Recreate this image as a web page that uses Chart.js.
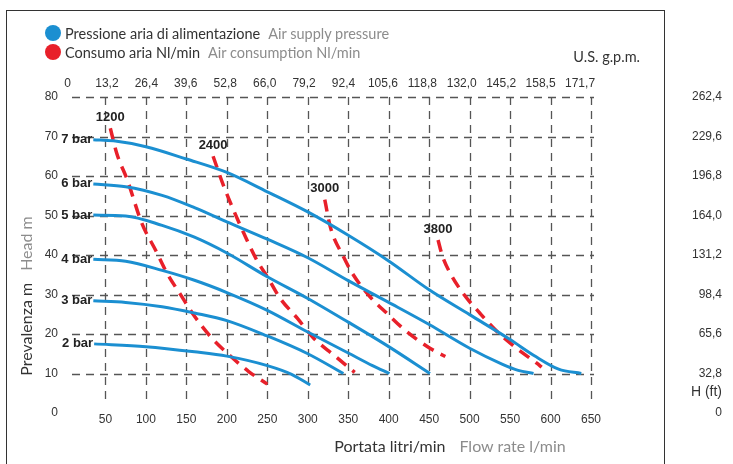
<!DOCTYPE html>
<html lang="it">
<head>
<meta charset="utf-8">
<title>Curve caratteristiche pompa</title>
<script src="https://cdn.jsdelivr.net/npm/chart.js@4.4.1/dist/chart.umd.min.js"></script>
<style>
  html, body { margin: 0; padding: 0; background: #fff; }
  body { position: relative; width: 733px; height: 464px; overflow: hidden; font-family: Lato, "Open Sans", sans-serif; }
  #grafico { position: absolute; left: 0; top: 0; }
  .cornice { position: absolute; left: 6px; top: 10px; width: 657px; height: 470px; border: 1.5px solid #333; border-bottom: none; }
  .legenda-riga { position: absolute; left: 45px; height: 20px; display: flex; align-items: center; font-size: 14.5px; color: #333; white-space: nowrap; }
  .pallino { width: 16px; height: 16px; border-radius: 50%; margin-right: 4px; }
  .en { color: #8c8c8c; margin-left: 8px; }
  .gpm { position: absolute; right: 93px; top: 48px; font-size: 14.5px; color: #333; }
  .titolo-x { position: absolute; left: 450px; top: 445px; transform: translate(-50%, -50%); font-size: 16px; color: #333; white-space: nowrap; }
  .titolo-y { position: absolute; left: 25px; top: 296px; transform: translate(-50%, -50%) rotate(-90deg); font-size: 16px; color: #333; white-space: nowrap; }
  .unita-ft { position: absolute; right: 11px; top: 383px; font-family: "Liberation Sans", Arial, sans-serif; font-size: 14px; color: #333; }
</style>
</head>
<body>
<canvas id="grafico" width="733" height="464"></canvas>
<div class="cornice"></div>
<div class="legenda-riga" style="top:23px"><span class="pallino" style="background:#1b8fd1"></span>Pressione aria di alimentazione<span class="en">Air supply pressure</span></div>
<div class="legenda-riga" style="top:42px"><span class="pallino" style="background:#e8202a"></span>Consumo aria Nl/min<span class="en">Air consumption Nl/min</span></div>
<div class="gpm">U.S. g.p.m.</div>
<div class="titolo-x">Portata litri/min<span class="en" style="margin-left:14px">Flow rate l/min</span></div>
<div class="titolo-y">Prevalenza m<span class="en" style="margin-left:12px">Head m</span></div>
<div class="unita-ft">H (ft)</div>

<script>
// Assi
const flowTicks = [50, 100, 150, 200, 250, 300, 350, 400, 450, 500, 550, 600, 650];
const gpmTicks = [0, 50, 100, 150, 200, 250, 300, 350, 400, 450, 500, 550, 600, 650];
const gpmLabels = ['0', '13,2', '26,4', '39,6', '52,8', '66,0', '79,2', '92,4', '105,6', '118,8', '132,0', '145,2', '158,5', '171,7'];
const headTicks = [0, 10, 20, 30, 40, 50, 60, 70, 80];
const feetLabels = ['0', '32,8', '65,6', '98,4', '131,2', '164,0', '196,8', '229,6', '262,4'];

// Curve pressione aria [portata l/min, prevalenza m]
const pressureNames = ['7 bar', '6 bar', '5 bar', '4 bar', '3 bar', '2 bar'];
const bar7 = [[35, 69.2], [60, 68.9], [100, 67.4], [150, 64.3], [200, 60.9], [250, 56], [300, 50.9], [350, 45], [400, 38.5], [450, 31.2], [500, 24.9], [550, 18.6], [580, 14.5], [610, 11.1], [638, 10]];
const bar6 = [[35, 58], [75, 57.3], [120, 55.1], [160, 52], [200, 48.4], [250, 44], [300, 39.3], [350, 33.5], [400, 28], [450, 22.4], [500, 16.4], [540, 12.4], [560, 10.8], [579, 10]];
const bar5 = [[35, 50.1], [75, 49.9], [120, 47.5], [160, 44.5], [200, 40.5], [250, 34.5], [300, 29], [350, 23], [400, 16.8], [451, 10]];
const bar4 = [[35, 38.9], [75, 38.4], [120, 36.1], [160, 33.6], [200, 30.5], [250, 26], [300, 20.5], [350, 15.2], [380, 12], [401, 10]];
const bar3 = [[35, 28.4], [75, 28], [120, 26.9], [160, 25.3], [200, 23.4], [250, 19.5], [300, 15], [344, 10]];
const bar2 = [[36, 17.5], [100, 16.8], [160, 15.5], [200, 14.4], [250, 12], [280, 9.8], [303, 7.1]];
const pressureCurves = [bar7, bar6, bar5, bar4, bar3, bar2];

// Curve consumo aria Nl/min
const airNames = ['1200', '2400', '3000', '3800'];
const air1200 = [[56, 72.1], [64, 65.7], [77, 59], [95, 48], [112, 41.2], [126, 35.4], [143, 29.9], [159, 24.8], [180, 19.3], [204, 14.5], [227, 10.5], [250, 7.3]];
const air2400 = [[183, 65], [196, 57.5], [208, 51.5], [221, 45.5], [237, 38.7], [250, 34.5], [266, 29], [287, 24], [307, 19], [332, 14.7], [358, 10.3]];
const air3000 = [[321, 54], [328, 47], [344, 39.6], [355, 35.4], [377, 29.4], [398, 25.2], [420, 21], [451, 16.4], [470, 14.3]];
const air3800 = [[461, 43.8], [466, 40], [476, 35.4], [493, 30], [513, 25.2], [534, 20.6], [558, 16.4], [583, 12.6], [589, 11.6]];
const airCurves = [air1200, air2400, air3000, air3800];

const BLU = '#1b8fd1';
const ROSSO = '#e8202a';

Chart.defaults.font.family = '"Liberation Sans", Arial, sans-serif';
Chart.defaults.font.size = 12;
Chart.defaults.color = '#333';

function toPoints(curve) {
    return curve.map(p => ({ x: p[0], y: p[1] }));
}

// Griglia tratteggiata (non arriva fino allo zero)
const grigliaTratteggiata = {
    id: 'grigliaTratteggiata',
    beforeDatasetsDraw(chart) {
        const { ctx, chartArea, scales } = chart;
        ctx.save();
        ctx.setLineDash([8, 6]);
        ctx.strokeStyle = '#555';
        ctx.lineWidth = 1.3;
        headTicks.filter(v => v > 0).forEach(v => {
            const py = Math.round(scales.y.getPixelForValue(v)) + 0.5;
            ctx.beginPath();
            ctx.moveTo(chartArea.left + 7, py);
            ctx.lineTo(chartArea.right + 3, py);
            ctx.stroke();
        });
        flowTicks.forEach(v => {
            const px = Math.round(scales.x.getPixelForValue(v)) + 0.5;
            ctx.beginPath();
            ctx.moveTo(px, chartArea.top);
            ctx.lineTo(px, chartArea.bottom - 11);
            ctx.stroke();
        });
        ctx.restore();
    }
};

// Etichette delle curve
const etichetteCurve = {
    id: 'etichetteCurve',
    afterDatasetsDraw(chart) {
        const ctx = chart.ctx;
        ctx.save();
        ctx.font = 'bold 13px "Liberation Sans", Arial, sans-serif';
        ctx.fillStyle = '#222';
        ctx.textBaseline = 'middle';
        chart.data.datasets.forEach((ds, i) => {
            const first = chart.getDatasetMeta(i).data[0];
            if (!first) return;
            if (ds.tipo === 'pressione') {
                ctx.textAlign = 'right';
                ctx.fillText(ds.label, first.x - 1, first.y);
            } else {
                ctx.textAlign = 'center';
                ctx.fillText(ds.label, first.x, first.y - 11);
            }
        });
        ctx.restore();
    }
};

const datasets = [];
pressureCurves.forEach((curve, i) => {
    datasets.push({
        label: pressureNames[i],
        tipo: 'pressione',
        data: toPoints(curve),
        borderColor: BLU,
        borderWidth: 3,
        pointRadius: 0,
        fill: false,
        cubicInterpolationMode: 'monotone'
    });
});
airCurves.forEach((curve, i) => {
    datasets.push({
        label: airNames[i],
        tipo: 'consumo',
        data: toPoints(curve),
        borderColor: ROSSO,
        borderWidth: 3.5,
        borderDash: [12, 8],
        pointRadius: 0,
        fill: false,
        cubicInterpolationMode: 'monotone'
    });
});

new Chart(document.getElementById('grafico'), {
    type: 'line',
    data: { datasets: datasets },
    options: {
        responsive: false,
        animation: false,
        devicePixelRatio: 1,
        layout: { padding: { left: 0, right: 11, top: 0, bottom: 0 } },
        plugins: { legend: { display: false }, tooltip: { enabled: false } },
        scales: {
            x: {
                type: 'linear', position: 'bottom', min: 0, max: 650,
                grid: { display: false, drawTicks: false },
                border: { display: false },
                afterBuildTicks: s => { s.ticks = flowTicks.map(v => ({ value: v })); },
                ticks: { padding: -1, autoSkip: false, maxRotation: 0 },
                afterFit: s => { s.height = 51; }
            },
            xTop: {
                type: 'linear', position: 'top', min: -3.2, max: 663.9,
                grid: { display: false, drawTicks: false },
                border: { display: false },
                afterBuildTicks: s => { s.ticks = gpmTicks.map(v => ({ value: v })); },
                ticks: { padding: 6, autoSkip: false, maxRotation: 0, callback: (v, i) => gpmLabels[i] },
                afterFit: s => { s.height = 97; }
            },
            y: {
                type: 'linear', position: 'left', min: 0, max: 80,
                grid: { display: false, drawTicks: false },
                border: { display: false },
                afterBuildTicks: s => { s.ticks = headTicks.map(v => ({ value: v })); },
                ticks: { padding: 7, autoSkip: false },
                afterFit: s => { s.width = 65; }
            },
            yFt: {
                type: 'linear', position: 'right', min: 0, max: 80,
                // etichette in piedi spostate a destra, fuori dalla cornice
                grid: { display: false, drawTicks: true, tickLength: 100 },
                border: { display: false },
                afterBuildTicks: s => { s.ticks = headTicks.map(v => ({ value: v })); },
                ticks: { padding: 0, crossAlign: 'far', autoSkip: false, callback: (v, i) => feetLabels[i] },
                afterFit: s => { s.width = 131; }
            }
        }
    },
    plugins: [grigliaTratteggiata, etichetteCurve]
});
</script>
</body>
</html>
